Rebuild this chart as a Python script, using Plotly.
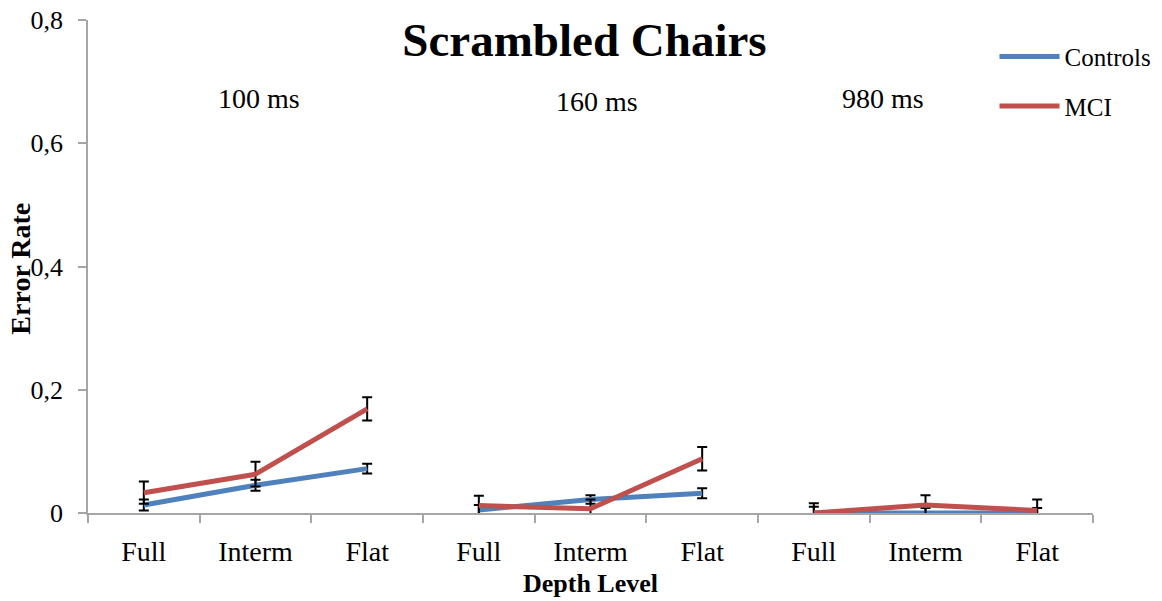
import plotly.graph_objects as go

# Depth levels repeated within each presentation-time group
depth_levels = ["Full", "Interm", "Flat"]
durations = ["100 ms", "160 ms", "980 ms"]

# Error rates per group (100 ms, 160 ms, 980 ms), depth order Full/Interm/Flat
controls_rate = [0.013, 0.045, 0.072, 0.005, 0.022, 0.032, 0.000, 0.000, 0.000]
controls_err = [0.009, 0.009, 0.008, 0.008, 0.007, 0.008, 0.010, 0.008, 0.008]
mci_rate = [0.033, 0.063, 0.169, 0.012, 0.007, 0.088, 0.000, 0.013, 0.004]
mci_err = [0.018, 0.020, 0.019, 0.016, 0.015, 0.019, 0.016, 0.016, 0.018]

FONT = "Liberation Serif"
BLUE = "#4f81bd"
RED = "#c0504d"
AXIS_GREY = "#a6a6a6"

n_levels = len(depth_levels)
tick_pos = list(range(n_levels * len(durations)))
tick_text = depth_levels * len(durations)


def with_gaps(values):
    """Insert None between groups so each group is a separate line segment."""
    xs, ys = [], []
    for g in range(len(durations)):
        for i in range(n_levels):
            k = g * n_levels + i
            xs.append(k)
            ys.append(values[k])
        if g < len(durations) - 1:
            xs.append(None)
            ys.append(None)
    return xs, ys


def gap_err(errs):
    out = []
    for g in range(len(durations)):
        out.extend(errs[g * n_levels:(g + 1) * n_levels])
        if g < len(durations) - 1:
            out.append(None)
    return out


fig = go.Figure()
for name, vals, errs, color in [
    ("Controls", controls_rate, controls_err, BLUE),
    ("MCI", mci_rate, mci_err, RED),
]:
    xs, ys = with_gaps(vals)
    fig.add_trace(go.Scatter(
        x=xs, y=ys, name=name, mode="lines", legendgroup=name,
        line=dict(color=color, width=5),
        error_y=dict(type="data", array=gap_err(errs), visible=True,
                     color="black", thickness=2, width=5),
    ))

# Presentation-time labels above each group
label_x = [1.03, 4.06, 6.62]
label_y = [0.673, 0.668, 0.672]
for label, lx, ly in zip(durations, label_x, label_y):
    fig.add_annotation(
        x=lx, y=ly, xref="x", yref="y", text=label,
        showarrow=False, font=dict(family=FONT, size=28, color="black"),
    )

# Rotated y-axis title
fig.add_annotation(
    x=-0.067, y=0.495, xref="paper", yref="paper", text="<b>Error Rate</b>",
    xanchor="center", yanchor="middle",
    textangle=-90, showarrow=False,
    font=dict(family=FONT, size=28, color="black"),
)

fig.update_layout(
    width=1162, height=601,
    margin=dict(l=88, r=69, t=20, b=88, autoexpand=False),
    paper_bgcolor="white", plot_bgcolor="white",
    separators=", ",
    title=dict(text="<b>Scrambled Chairs</b>", x=0.503, xanchor="center",
               y=0.935, yanchor="middle",
               font=dict(family=FONT, size=47, color="black")),
    legend=dict(x=0.902, y=0.972, xanchor="left", yanchor="top",
                font=dict(family=FONT, size=25, color="black"),
                itemwidth=60,
                tracegroupgap=14, bgcolor="rgba(0,0,0,0)"),
    font=dict(family=FONT, color="black"),
)

fig.update_xaxes(
    range=[-0.5, len(tick_pos) - 0.5],
    tickmode="array", tickvals=tick_pos, ticktext=tick_text,
    ticks="", showgrid=False, zeroline=False, automargin=False,
    showline=True, linecolor=AXIS_GREY, linewidth=1.5,
    tickfont=dict(family=FONT, size=28, color="black"),
    ticklabelstandoff=13,
    minor=dict(tick0=-0.5, dtick=1, ticks="outside", ticklen=8,
               tickcolor=AXIS_GREY, tickwidth=1.5, showgrid=False),
    title=dict(text="<b>Depth Level</b>", standoff=7,
               font=dict(family=FONT, size=26, color="black")),
)

fig.update_yaxes(
    range=[0, 0.8], tickmode="array",
    tickvals=[0, 0.2, 0.4, 0.6, 0.8],
    ticktext=["0", "0,2", "0,4", "0,6", "0,8"],
    ticks="outside", ticklen=8, tickcolor=AXIS_GREY, tickwidth=1.5,
    showgrid=False, zeroline=False, automargin=False,
    showline=True, linecolor=AXIS_GREY, linewidth=1.5,
    tickfont=dict(family=FONT, size=26, color="black"),
    ticklabelstandoff=10,
)

fig.write_html("out.html")
